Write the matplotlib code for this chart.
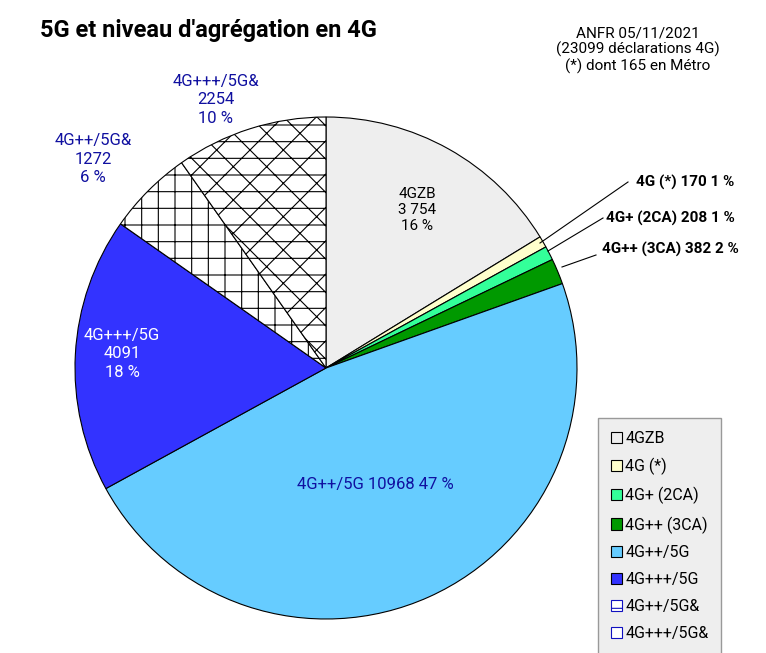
import matplotlib.pyplot as plt
from matplotlib.patches import Patch

plt.rcParams['font.family'] = ['Roboto', 'DejaVu Sans']
plt.rcParams['hatch.color'] = '#1010c0'
plt.rcParams['hatch.linewidth'] = 0.8

labels = ['4GZB', '4G (*)', '4G+ (2CA)', '4G++ (3CA)', '4G++/5G', '4G+++/5G', '4G++/5G&', '4G+++/5G&']
values = [3754, 170, 208, 382, 10968, 4091, 1272, 2254]
colors = ['#eeeeee', '#ffffcc', '#33ff99', '#009900', '#66ccff', '#3333ff', 'white', 'white']
hatches = [None, None, None, None, None, None, '+', 'x-']
H = 653

fig = plt.figure(figsize=(7.66, 6.53), dpi=100)
ax = fig.add_axes([0, 0, 1, 1])
ax.set_xlim(0, 766)
ax.set_ylim(0, H)
ax.set_aspect('equal')
ax.axis('off')

wedges, _ = ax.pie(values, colors=colors, startangle=90, counterclock=False,
                   center=(326, H - 368), radius=251, frame=True,
                   wedgeprops=dict(edgecolor='black', linewidth=0.8))
for w, h in zip(wedges, hatches):
    if h:
        w.set_hatch(h)
ax.set_xlim(0, 766)
ax.set_ylim(0, H)
ax.axis('off')

fs = 11
ax.text(40, H - 30, "5G et niveau d'agrégation en 4G", fontsize=17, fontweight='bold', va='center')
ax.text(638, H - 50, 'ANFR 05/11/2021\n(23099 déclarations 4G)\n(*) dont 165 en Métro',
        fontsize=11, ha='center', va='center', linespacing=1.1)

ax.text(417, H - 210, '4GZB\n3 754\n16 %', fontsize=fs, ha='center', va='center', color='black', linespacing=1.2)
ax.text(375, H - 484, '4G++/5G 10968 47 %', fontsize=12, ha='center', va='center', color='#1010a0')
ax.text(122, H - 354, '4G+++/5G\n4091\n18 %', fontsize=12, ha='center', va='center', color='white', linespacing=1.3)
ax.text(93, H - 159, '4G++/5G&\n1272\n6 %', fontsize=12, ha='center', va='center', color='#1010a0', linespacing=1.3)
ax.text(216, H - 100, '4G+++/5G&\n2254\n10 %', fontsize=12, ha='center', va='center', color='#1010a0', linespacing=1.3)

small = [('4G (*) 170 1 %', 685, 182, 540, 243, 628, 182),
         ('4G+ (2CA) 208 1 %', 670, 218, 548, 251, 603, 218),
         ('4G++ (3CA) 382 2 %', 670, 249, 562, 267, 596, 255)]
for t, x, y, x0, y0, x1, y1 in small:
    ax.text(x, H - y, t, fontsize=11, ha='center', va='center', fontweight='bold')
    ax.plot([x0, x1], [H - y0, H - y1], color='black', lw=0.8)

handles = [Patch(facecolor=c, edgecolor='black' if not h else '#1010c0', hatch=h, linewidth=0.8)
           for c, h in zip(colors, hatches)]
leg = ax.legend(handles, labels, loc='upper left', bbox_to_anchor=(598 / 766, 1 - 418 / H),
                fontsize=11.5, fancybox=False, framealpha=1, facecolor='#eeeeee', edgecolor='#999999',
                handlelength=0.7, handleheight=0.7, handletextpad=0.2, labelspacing=0.75,
                borderpad=0.8, borderaxespad=0)
leg.get_frame().set_linewidth(1)

fig.savefig('out.png', dpi=100)
